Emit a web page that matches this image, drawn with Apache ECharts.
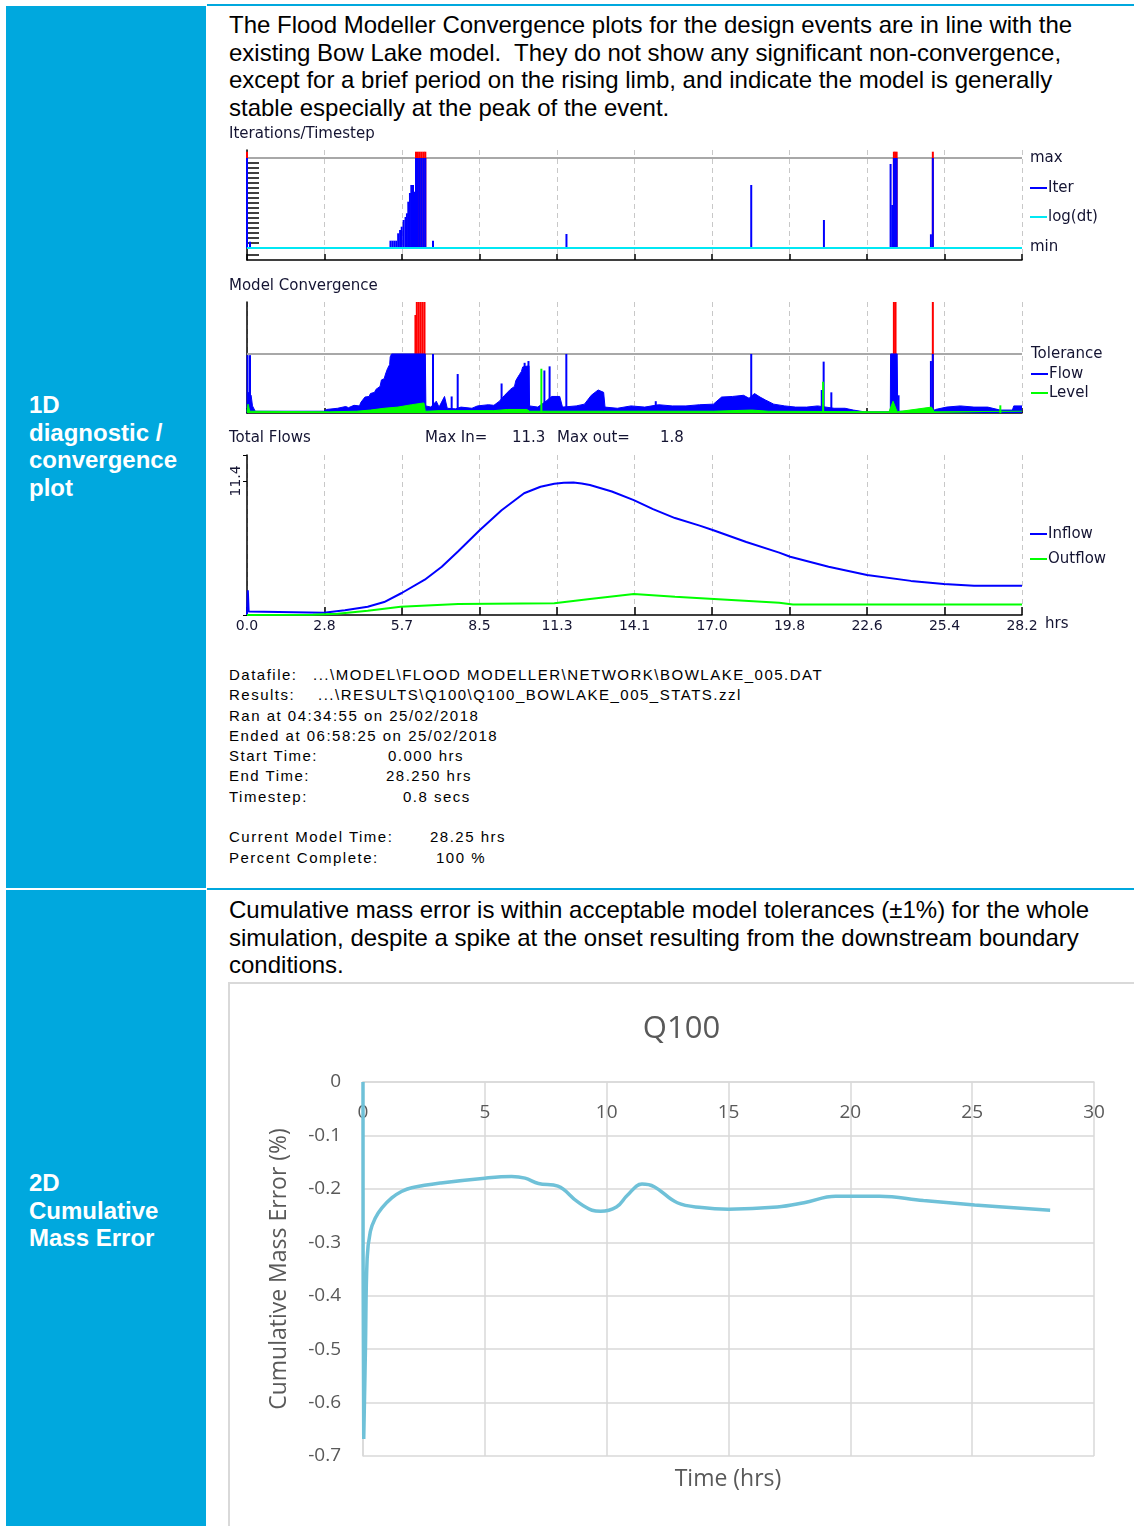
<!DOCTYPE html>
<html>
<head>
<meta charset="utf-8">
<script src="https://cdn.jsdelivr.net/npm/echarts@6/dist/echarts.min.js"></script>
<style>
html,body{margin:0;padding:0;background:#fff;overflow:hidden;}
body{width:1134px;height:1526px;position:relative;font-family:"Liberation Sans",Arial,sans-serif;}
.cell{position:absolute;left:6px;width:200px;background:#00a8de;}
.rule{position:absolute;left:207px;width:927px;height:2px;background:#00a8de;}
.side{position:absolute;left:29px;color:#fff;font-weight:bold;font-size:24px;line-height:27.6px;white-space:nowrap;}
.para{position:absolute;left:229px;font-size:24px;line-height:27.6px;color:#000;white-space:nowrap;}
.row{position:absolute;font-size:15px;letter-spacing:1.5px;color:#000;white-space:nowrap;line-height:20px;}
.box{position:absolute;background:#d9d9d9;}
</style>
</head>
<body>
<div class="cell" style="top:6px;height:882px;"></div>
<div class="cell" style="top:890px;height:636px;"></div>
<div class="rule" style="top:4px;"></div>
<div class="rule" style="top:888px;"></div>

<div class="side" style="top:391px;">1D<br>diagnostic /<br>convergence<br>plot</div>
<div class="side" style="top:1169px;">2D<br>Cumulative<br>Mass Error</div>

<div class="para" style="top:11px;">The Flood Modeller Convergence plots for the design events are in line with the<br>existing Bow Lake model.&nbsp; They do not show any significant non-convergence,<br>except for a brief period on the rising limb, and indicate the model is generally<br>stable especially at the peak of the event.</div>

<div id="flood" style="position:absolute;left:207px;top:125px;width:927px;height:520px;"></div>

<div class="row" style="left:229px;top:665px;">Datafile:</div>
<div class="row" style="left:313px;top:665px;">...\MODEL\FLOOD MODELLER\NETWORK\BOWLAKE_005.DAT</div>
<div class="row" style="left:229px;top:685px;">Results:</div>
<div class="row" style="left:318px;top:685px;">...\RESULTS\Q100\Q100_BOWLAKE_005_STATS.zzl</div>
<div class="row" style="left:229px;top:706px;">Ran at 04:34:55 on 25/02/2018</div>
<div class="row" style="left:229px;top:726px;">Ended at 06:58:25 on 25/02/2018</div>
<div class="row" style="left:229px;top:746px;">Start Time:</div>
<div class="row" style="left:388px;top:746px;">0.000 hrs</div>
<div class="row" style="left:229px;top:766px;">End Time:</div>
<div class="row" style="left:386px;top:766px;">28.250 hrs</div>
<div class="row" style="left:229px;top:787px;">Timestep:</div>
<div class="row" style="left:403px;top:787px;">0.8 secs</div>
<div class="row" style="left:229px;top:827px;">Current Model Time:</div>
<div class="row" style="left:430px;top:827px;">28.25 hrs</div>
<div class="row" style="left:229px;top:848px;">Percent Complete:</div>
<div class="row" style="left:436px;top:848px;">100 %</div>

<div class="para" style="top:896px;">Cumulative mass error is within acceptable model tolerances (±1%) for the whole<br>simulation, despite a spike at the onset resulting from the downstream boundary<br>conditions.</div>

<div class="box" style="left:228px;top:982px;width:906px;height:2px;"></div>
<div class="box" style="left:228px;top:982px;width:2px;height:544px;"></div>
<div id="q100" style="position:absolute;left:229px;top:983px;width:905px;height:543px;"></div>

<script>
// ---- Flood Modeller diagnostic data ----
const timeTickLabels = ['0.0', '2.8', '5.7', '8.5', '11.3', '14.1', '17.0', '19.8', '22.6', '25.4', '28.2'];
const END_TIME = 28.25;
const MAX_ITER = 9.0;
const TOLERANCE = 1.0;

// [hours, iterations] (iterations above MAX_ITER are drawn red)
const iterBars = [
  [0.0, 9.63], [0.11, 0.63],
  [5.23, 0.73], [5.30, 0.73], [5.37, 0.73], [5.44, 0.73], [5.51, 1.47], [5.58, 1.8], [5.64, 2.13],
  [5.71, 2.8], [5.78, 3.1], [5.83, 3.47], [5.88, 4.63], [5.94, 5.5], [5.99, 6.3], [6.05, 6.3],
  [6.10, 5.63], [6.16, 9.63], [6.23, 9.63], [6.30, 9.63], [6.37, 9.63], [6.44, 9.63], [6.50, 9.63],
  [6.78, 0.73], [11.645, 1.4], [18.38, 6.3], [21.03, 2.8],
  [23.46, 8.4], [23.52, 4.3], [23.58, 9.63], [23.63, 9.63], [23.68, 9.63],
  [24.93, 1.37], [25.0, 9.63]
];
const logDt = [[0, 0], [END_TIME, 0]];

// [hours, flow convergence]
const flowProfile = [
  [0, 0.3], [0.06, 0.35], [0.15, 0.3], [0.2, 0.12], [0.3, 0.03],
  [2.8, 0.03], [2.9, 0.06], [3.3, 0.08], [3.6, 0.11], [3.7, 0.09], [3.9, 0.13], [4.1, 0.12], [4.15, 0.18],
  [4.3, 0.27], [4.45, 0.28], [4.5, 0.33], [4.65, 0.35], [4.7, 0.4], [4.85, 0.45], [4.9, 0.56], [5.0, 0.58],
  [5.05, 0.66], [5.12, 0.75], [5.2, 0.82], [5.22, 0.95], [5.27, 1.0], [6.5, 1.0],
  [6.52, 0.12], [6.7, 0.1], [6.9, 0.2], [7.0, 0.1], [7.2, 0.28], [7.3, 0.08], [7.6, 0.07], [7.8, 0.1],
  [8.2, 0.08], [8.4, 0.12], [8.8, 0.14], [9.0, 0.13], [9.2, 0.2], [9.39, 0.3], [9.6, 0.4], [9.75, 0.45],
  [9.8, 0.55], [9.93, 0.65], [10.0, 0.7], [10.05, 0.78], [10.28, 0.8], [10.3, 0.12], [10.6, 0.1],
  [10.9, 0.2], [11.1, 0.28], [11.4, 0.28], [11.5, 0.1], [12.0, 0.12], [12.3, 0.15], [12.55, 0.3],
  [12.8, 0.39], [13.0, 0.35], [13.05, 0.1], [13.5, 0.08], [14.0, 0.12], [14.5, 0.1], [15.0, 0.14],
  [15.5, 0.12], [16.0, 0.12], [16.5, 0.14], [17.0, 0.15], [17.3, 0.27], [17.7, 0.28], [18.1, 0.3],
  [18.3, 0.25], [18.5, 0.33], [18.7, 0.27], [18.9, 0.22], [19.2, 0.15], [19.6, 0.12], [20.0, 0.1],
  [20.4, 0.1], [20.8, 0.12], [21.4, 0.08], [21.8, 0.08], [22.1, 0.05], [22.5, 0.02], [23.45, 0.02],
  [23.46, 1.0], [23.7, 1.0], [23.72, 0.03], [24.9, 0.02], [25.1, 0.06], [25.5, 0.1], [26.0, 0.12],
  [26.5, 0.1], [27.0, 0.1], [27.45, 0.05], [27.9, 0.05], [27.95, 0.12], [28.25, 0.12]
];
const flowSpikes = [
  [0.02, 0.98], [0.11, 0.98], [6.78, 1.0], [7.46, 0.28], [7.68, 0.66], [9.28, 0.5], [10.12, 0.85],
  [10.26, 0.88], [10.84, 0.72], [11.03, 0.79], [11.64, 1.0], [14.9, 0.2], [18.38, 1.0], [20.95, 0.39],
  [21.02, 0.87], [21.3, 0.35], [23.75, 0.3], [24.93, 0.88], [25.0, 1.0]
];
const flowOverTol = [
  [6.14, 1.66], [6.19, 1.88], [6.26, 1.88], [6.33, 1.88], [6.40, 1.88], [6.47, 1.88],
  [23.58, 1.88], [23.64, 1.88], [25.0, 1.88]
];
// [hours, level convergence]
const levelProfile = [
  [0, 0.02], [0.04, 0.15], [0.1, 0.03], [3.0, 0.02], [4.0, 0.03], [4.5, 0.05], [5.0, 0.08], [5.5, 0.1],
  [6.0, 0.14], [6.45, 0.17], [6.5, 0.03], [7.0, 0.04], [9.0, 0.04], [9.5, 0.06], [10.2, 0.06],
  [10.3, 0.03], [13.0, 0.03], [17.0, 0.03], [18.4, 0.05], [19.0, 0.03], [23.4, 0.02], [23.55, 0.2],
  [23.7, 0.02], [24.95, 0.1], [25.05, 0.02], [28.25, 0.03]
];
const levelSpikes = [[10.73, 0.75], [21.0, 0.53], [27.46, 0.13]];

// [hours, total flow]
const inflow = [
  [0, 0.0], [0.03, 2.1], [0.06, 0.3], [0.1, 0.2], [2.8, 0.2], [3.57, 0.4], [4.4, 0.7], [5.0, 1.1],
  [5.64, 1.87], [6.48, 3.0], [7.1, 4.1], [7.69, 5.4], [8.48, 7.2], [9.28, 8.9], [10.1, 10.35],
  [10.7, 10.9], [11.2, 11.15], [11.55, 11.25], [11.9, 11.27], [12.2, 11.18], [12.5, 11.05], [13.3, 10.5],
  [14.1, 9.77], [14.8, 9.0], [15.6, 8.24], [16.5, 7.6], [17.0, 7.2], [18.2, 6.2], [19.4, 5.3], [19.8, 4.95],
  [21.2, 4.1], [22.6, 3.4], [24.2, 2.9], [25.4, 2.64], [26.5, 2.49], [28.25, 2.49]
];
const outflow = [
  [0, 0], [2.4, 0.02], [3.3, 0.1], [4.4, 0.37], [5.6, 0.7], [7.7, 0.93], [11.2, 1.0], [12.5, 1.36],
  [14.1, 1.78], [15.6, 1.55], [17.5, 1.3], [19.4, 1.05], [19.9, 0.9], [28.25, 0.9]
];
const flowAxisLabel = 11.4;

// ---- Q100 cumulative mass error ----
const hours = [0, 0.03, 0.1, 0.17, 0.3, 0.5, 0.77, 1.18, 1.58, 2.0, 3.2, 5.0, 6.1, 6.65, 7.2, 8.0, 8.8, 9.4,
  9.75, 10.4, 10.85, 11.45, 11.95, 12.9, 13.9, 15.0, 17.0, 18.1, 19.4, 21.2, 23.0, 25.1, 28.2];
const massError = [0, -0.668, -0.5, -0.33, -0.28, -0.255, -0.236, -0.217, -0.205, -0.198, -0.189, -0.18,
  -0.177, -0.18, -0.19, -0.195, -0.224, -0.24, -0.242, -0.234, -0.212, -0.191, -0.196, -0.226, -0.235,
  -0.238, -0.234, -0.226, -0.214, -0.214, -0.222, -0.23, -0.24];

const BLUE = '#0000ff', GREEN = '#00ff00', RED = '#ff0000', CYAN = '#00e8f4', GRAY = '#a8a8a8';
const INK = '#141432';
const FONT = 'DejaVu Sans';
const step = END_TIME / 10;

function timeAxis(gridIndex, showLabels, tickLen) {
  return {
    type: 'value', gridIndex: gridIndex, min: 0, max: END_TIME, interval: step,
    axisLine: { show: true, onZero: false, lineStyle: { color: '#000', width: 1.5 } },
    axisTick: { show: true, inside: true, length: tickLen, lineStyle: { color: '#000', width: 1.5 } },
    axisLabel: {
      show: showLabels, margin: 4, color: INK, fontFamily: FONT, fontSize: 14,
      formatter: v => timeTickLabels[Math.round(v / step)]
    },
    splitLine: { show: true, lineStyle: { color: '#c8c8c8', type: [5, 4], width: 1 } }
  };
}

const iterTicks = [-0.7];
for (let v = 0.5; v <= 8.5; v += 0.5) iterTicks.push(v);

function txt(s, x, y) {
  return { type: 'text', x: x, y: y, style: { text: s, fill: INK, fontSize: 15, fontFamily: FONT, verticalAlign: 'middle', align: 'left' } };
}
function mark(x, y, color) {
  return { type: 'line', shape: { x1: x, y1: y, x2: x + 17, y2: y }, style: { stroke: color, lineWidth: 2 } };
}

const flood = echarts.init(document.getElementById('flood'));
flood.setOption({
  animation: false,
  grid: [
    { left: 40, top: 25, width: 775, height: 110 },
    { left: 40, top: 177, width: 775, height: 111 },
    { left: 40, top: 330, width: 775, height: 160 }
  ],
  xAxis: [timeAxis(0, false, 6), timeAxis(1, false, 5), timeAxis(2, true, 8)],
  yAxis: [
    {
      type: 'value', gridIndex: 0, min: -1.2, max: 9.8,
      axisLine: { show: true, lineStyle: { color: '#000', width: 1.5 } },
      axisTick: { show: true, inside: true, length: 12, customValues: iterTicks, lineStyle: { color: '#000', width: 1.5 } },
      axisLabel: { show: false }, splitLine: { show: false }
    },
    {
      type: 'value', gridIndex: 1, min: 0, max: 1.88,
      axisLine: { show: true, lineStyle: { color: '#000', width: 1.5 } },
      axisTick: { show: false }, axisLabel: { show: false }, splitLine: { show: false }
    },
    {
      type: 'value', gridIndex: 2, min: 0, max: 13.6, interval: flowAxisLabel,
      axisLine: { show: true, lineStyle: { color: '#000', width: 1.5 } },
      axisTick: { show: true, length: 4, lineStyle: { color: '#000' } },
      axisLabel: {
        rotate: 90, margin: 4, color: INK, fontFamily: FONT, fontSize: 14,
        formatter: v => (Math.abs(v - flowAxisLabel) < 1e-6 ? v.toFixed(1) : '')
      },
      splitLine: { show: false }
    }
  ],
  series: [
    { type: 'line', xAxisIndex: 0, yAxisIndex: 0, data: [[0, MAX_ITER], [END_TIME, MAX_ITER]], symbol: 'none', lineStyle: { color: GRAY, width: 2 }, z: 1 },
    { type: 'bar', xAxisIndex: 0, yAxisIndex: 0, data: iterBars.filter(d => d[1] > MAX_ITER), barWidth: 2, barGap: '-100%', itemStyle: { color: RED }, z: 2 },
    { type: 'bar', xAxisIndex: 0, yAxisIndex: 0, data: iterBars.map(d => [d[0], Math.min(d[1], MAX_ITER)]), barWidth: 2, barGap: '-100%', itemStyle: { color: BLUE }, z: 3 },
    { type: 'line', xAxisIndex: 0, yAxisIndex: 0, data: logDt, symbol: 'none', lineStyle: { color: CYAN, width: 2 }, z: 4 },

    { type: 'line', xAxisIndex: 1, yAxisIndex: 1, data: [[0, TOLERANCE], [END_TIME, TOLERANCE]], symbol: 'none', lineStyle: { color: GRAY, width: 2 }, z: 1 },
    { type: 'bar', xAxisIndex: 1, yAxisIndex: 1, data: flowOverTol, barWidth: 2, barGap: '-100%', itemStyle: { color: RED }, z: 2 },
    { type: 'line', xAxisIndex: 1, yAxisIndex: 1, data: flowProfile, symbol: 'none', lineStyle: { color: BLUE, width: 1 }, areaStyle: { color: BLUE, opacity: 1 }, z: 3 },
    { type: 'bar', xAxisIndex: 1, yAxisIndex: 1, data: flowSpikes, barWidth: 2, barGap: '-100%', itemStyle: { color: BLUE }, z: 3 },
    { type: 'line', xAxisIndex: 1, yAxisIndex: 1, data: levelProfile, symbol: 'none', lineStyle: { color: GREEN, width: 1 }, areaStyle: { color: GREEN, opacity: 1 }, z: 4 },
    { type: 'bar', xAxisIndex: 1, yAxisIndex: 1, data: levelSpikes, barWidth: 2, barGap: '-100%', itemStyle: { color: GREEN }, z: 4 },

    { type: 'line', xAxisIndex: 2, yAxisIndex: 2, data: inflow, symbol: 'none', lineStyle: { color: BLUE, width: 2 }, z: 3 },
    { type: 'line', xAxisIndex: 2, yAxisIndex: 2, data: outflow, symbol: 'none', lineStyle: { color: GREEN, width: 2 }, z: 3 }
  ],
  graphic: [
    txt('Iterations/Timestep', 22, 9),
    txt('max', 823, 33),
    mark(823, 63, BLUE), txt('Iter', 841, 63),
    mark(823, 92, CYAN), txt('log(dt)', 841, 92),
    txt('min', 823, 122),
    txt('Model Convergence', 22, 161),
    txt('Tolerance', 824, 229),
    mark(824, 249, BLUE), txt('Flow', 842, 249),
    mark(824, 268, GREEN), txt('Level', 842, 268),
    txt('Total Flows', 22, 313),
    txt('Max In=', 218, 313), txt('11.3', 305, 313),
    txt('Max out=', 350, 313), txt('1.8', 453, 313),
    mark(823, 409, BLUE), txt('Inflow', 841, 409),
    mark(823, 434, GREEN), txt('Outflow', 841, 434),
    txt('hrs', 838, 499)
  ]
});

const GREY_TXT = '#595959';
const q100 = echarts.init(document.getElementById('q100'));
q100.setOption({
  animation: false,
  title: {
    text: 'Q100', left: 'center', top: 26,
    textStyle: { fontFamily: 'Open Sans', fontSize: 31, fontWeight: 'normal', color: GREY_TXT }
  },
  grid: { left: 134, top: 99, width: 731, height: 374 },
  xAxis: {
    type: 'value', position: 'top', min: 0, max: 30, interval: 5,
    axisLine: { show: true, onZero: false, lineStyle: { color: '#d9d9d9', width: 1.5 } },
    axisTick: { show: false },
    axisLabel: { inside: true, margin: 21, color: GREY_TXT, fontFamily: 'Open Sans', fontSize: 19 },
    splitLine: { show: true, lineStyle: { color: '#d9d9d9', width: 1.5 } }
  },
  yAxis: {
    type: 'value', min: -0.7, max: 0, interval: 0.1,
    name: 'Cumulative Mass Error (%)', nameLocation: 'middle', nameGap: 72,
    nameTextStyle: { fontFamily: 'Open Sans', fontSize: 23, color: GREY_TXT },
    axisLine: { show: true, lineStyle: { color: '#d9d9d9', width: 1.5 } },
    axisTick: { show: false },
    axisLabel: {
      margin: 22, color: GREY_TXT, fontFamily: 'Open Sans', fontSize: 19,
      formatter: v => { const r = Math.round(v * 10) / 10; return r === 0 ? '0' : r.toFixed(1); }
    },
    splitLine: { show: true, lineStyle: { color: '#d9d9d9', width: 1.5 } }
  },
  graphic: [{
    type: 'text', x: 499, y: 496,
    style: { text: 'Time (hrs)', fill: GREY_TXT, fontSize: 23, fontFamily: 'Open Sans', align: 'center', verticalAlign: 'middle' }
  }],
  series: [{
    type: 'line', data: hours.map((h, i) => [h, massError[i]]), smooth: 0.4,
    symbol: 'none', lineStyle: { color: '#6fc1d8', width: 3.5 }
  }]
});
</script>
</body>
</html>
